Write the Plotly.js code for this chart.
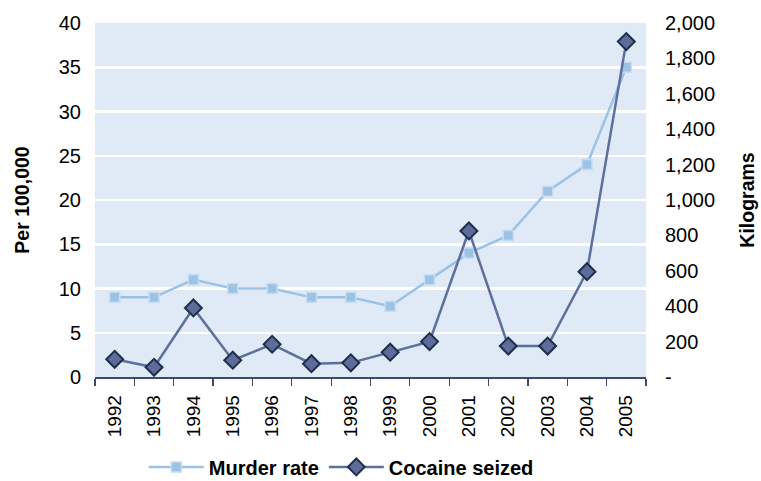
<!DOCTYPE html>
<html><head><meta charset="utf-8">
<script src="https://cdn.plot.ly/plotly-3.0.1.min.js"></script>
<style>html,body{margin:0;padding:0;background:#fff}#chart{width:761px;height:481px}</style>
</head><body><div id="chart"></div>
<script>
const years = ['1992','1993','1994','1995','1996','1997','1998','1999','2000','2001','2002','2003','2004','2005'];
const murderRate = [9, 9, 11, 10, 10, 9, 9, 8, 11, 14, 16, 21, 24, 35];
const cocaineSeized = [100, 55, 390, 95, 185, 75, 80, 140, 200, 825, 175, 175, 595, 1895];
const leftTicks = [0, 5, 10, 15, 20, 25, 30, 35, 40];
const rightTickVals = [0, 200, 400, 600, 800, 1000, 1200, 1400, 1600, 1800, 2000];
const rightTickText = ['-', '200', '400', '600', '800', '1,000', '1,200', '1,400', '1,600', '1,800', '2,000'];

const font = 'Liberation Sans, Arial, sans-serif';
const traces = [
  {x: years, y: murderRate, name: 'Murder rate', type: 'scatter', mode: 'lines+markers',
   line: {color: '#9cc2e5', width: 2.5},
   marker: {symbol: 'square', size: 10, color: '#9cc2e5', line: {color: '#c5dcf0', width: 1.5}}},
  {x: years, y: cocaineSeized, name: 'Cocaine seized', type: 'scatter', mode: 'lines+markers', yaxis: 'y2',
   line: {color: '#5f6f9c', width: 2.5},
   marker: {symbol: 'diamond', size: 13, color: '#5d6c99', line: {color: '#1f2e4e', width: 2}}}
];
const layout = {
  width: 761, height: 481,
  margin: {l: 95, r: 115, t: 23, b: 104, autoexpand: false},
  paper_bgcolor: '#ffffff', plot_bgcolor: '#dfeaf6',
  font: {family: font, size: 19, color: '#000'},
  showlegend: true,
  legend: {orientation: 'h', x: 0.447, xanchor: 'center', y: -0.254, yanchor: 'middle',
           itemwidth: 55,
           font: {family: font, size: 20, color: '#000', weight: 'bold'}},
  xaxis: {type: 'category', tickangle: -90, ticks: 'outside', tickson: 'boundaries', ticklen: 7,
          tickcolor: '#3b4a6b', tickwidth: 1.2, showline: true, linecolor: '#3b4a6b', linewidth: 1.5,
          showgrid: false, tickfont: {family: font, size: 19}, range: [-0.5, 13.5], automargin: false,
          ticklabelstandoff: 9},
  yaxis: {range: [0, 40], tickvals: leftTicks, showgrid: true, gridcolor: '#ffffff', gridwidth: 2.5,
          zeroline: false, showline: false, ticks: '', tickfont: {family: font, size: 20}, automargin: false,
          ticklabelstandoff: 13,
          title: {text: 'Per 100,000', font: {family: font, size: 19.5, weight: 'bold'}, standoff: 23}},
  yaxis2: {overlaying: 'y', side: 'right', range: [0, 2000], tickvals: rightTickVals, ticktext: rightTickText,
           showgrid: false, zeroline: false, showline: false, ticks: '', tickfont: {family: font, size: 20},
           automargin: false, ticklabelstandoff: 18,
           title: {text: 'Kilograms', font: {family: font, size: 19.5, weight: 'bold'}, standoff: 26}}
};
Plotly.newPlot('chart', traces, layout, {displayModeBar: false, staticPlot: true});
</script></body></html>
